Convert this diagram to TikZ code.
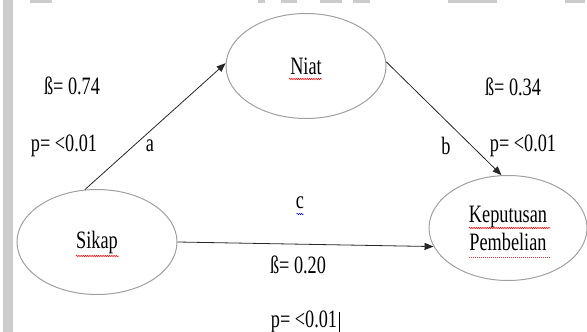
\documentclass[tikz,border=0pt]{standalone}
\usepackage{fontspec}
\setmainfont{Liberation Serif}
\usepackage{graphicx}
\usepackage{xcolor}
\usepackage{tikz}
\usetikzlibrary{calc, shapes.geometric, arrows.meta, decorations.pathmorphing}

\definecolor{garis}{RGB}{160,160,160}
\definecolor{abu}{RGB}{204,204,204}
\newcommand{\tx}[1]{\scalebox{0.73}[1]{#1}}

\begin{document}
\begin{tikzpicture}[x=1pt, y=-1pt, >={Triangle[length=9pt,width=7pt]},
    var/.style={ellipse, draw=garis, line width=1pt, inner sep=0pt,
        minimum width=160pt, minimum height=105pt, align=center,
        font=\fontsize{25}{28}\selectfont},
    lbl/.style={inner sep=0pt, font=\fontsize{25}{28}\selectfont},
    panah/.style={->, draw=black!85, line width=0.8pt},
    wavy/.style={decorate, decoration={snake, amplitude=0.7pt, segment length=2.2pt},
        line width=0.5pt}]

    % =================================================================
    % 1. BATAS GAMBAR DAN BINGKAI ABU-ABU
    % =================================================================
    \useasboundingbox (0,0) rectangle (587,332);
    \fill[abu] (3,0) rectangle (13,332);
    \foreach \a/\b in {30/52, 258/265, 281/297, 320/342, 353/370, 448/497, 565/585}
        \fill[abu] (\a,0) rectangle (\b,3);

    % =================================================================
    % 2. VARIABEL (ELIPS)
    % =================================================================
    \node[var] (niat)  at (306,66)  {\tx{Niat}};
    \node[var] (sikap) at (97,242)  {\tx{Sikap}};
    \node[var, minimum width=158pt] (kp) at (508,228) {\tx{Keputusan}\\\tx{Pembelian}};

    % Garis bawah ejaan (merah / biru)
    \draw[wavy, red] ($(niat)+(-17,13)$) -- ++(33,0);
    \draw[wavy, red] ($(sikap)+(-21,14)$) -- ++(43,0);
    \draw[wavy, red] ($(kp)+(-39,0)$) -- ++(81,0);
    \draw[red!80, line width=0.6pt, dash pattern=on 1pt off 1pt] ($(kp)+(-39,29)$) -- ++(81,0);

    % =================================================================
    % 3. JALUR (PANAH)
    % =================================================================
    \draw[panah] (sikap.103) -- (niat.178);
    \draw[panah] (niat.3) -- (kp.97);
    \draw[panah] (sikap.0) -- (kp.194);

    % =================================================================
    % 4. KOEFISIEN DAN LABEL JALUR
    % =================================================================
    \node[lbl] (beta1) at (72,86)   {\tx{ß= 0.74}};
    \node[lbl] (p1)    at (64,146)  {\tx{p= <0.01}};
    \node[lbl] (la)    at (150,146) {\tx{a}};

    \node[lbl] (beta2) at (513,87)  {\tx{ß= 0.34}};
    \node[lbl] (lb)    at (446,146) {\tx{b}};
    \node[lbl] (p2)    at (523,146) {\tx{p= <0.01}};

    \node[lbl] (lc)    at (300,203) {\tx{c}};
    \draw[wavy, blue] ($(lc)+(-3.5,11)$) -- ++(7,0);
    \node[lbl] (beta3) at (298,265) {\tx{ß= 0.20}};
    \node[lbl] (p3)    at (304,322) {\tx{p= <0.01}};
    \draw[line width=0.8pt] ($(p3.east)+(2,-10)$) -- ++(0,20);

\end{tikzpicture}
\end{document}
